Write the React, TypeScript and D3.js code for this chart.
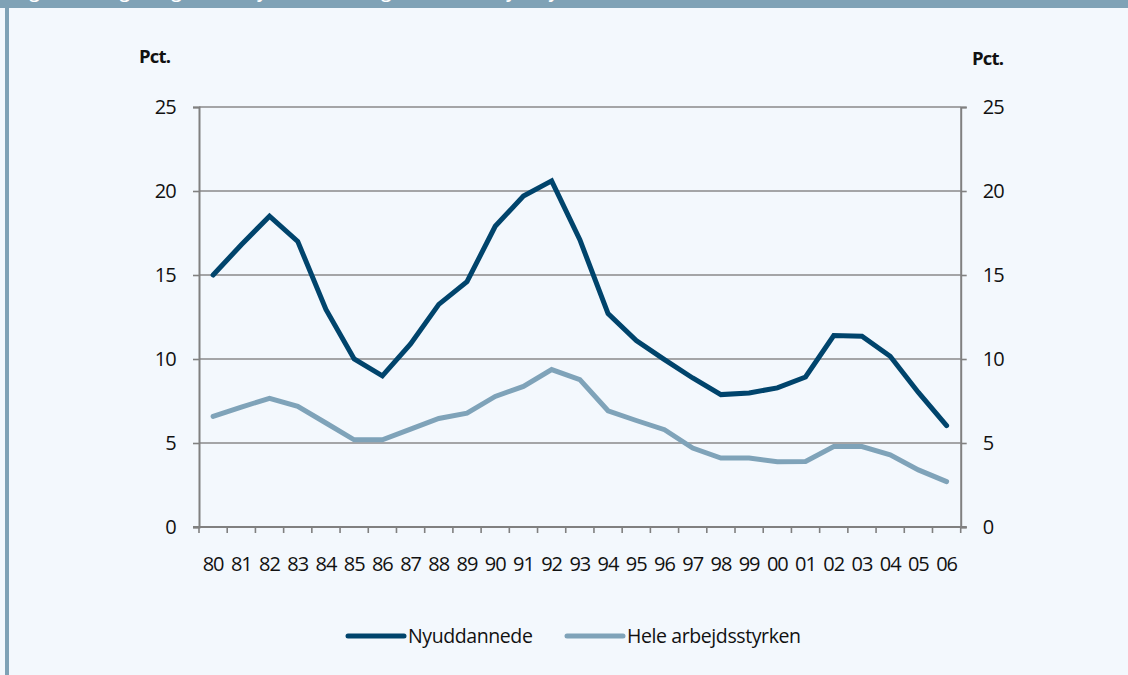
import React, { useEffect, useRef } from 'react';
import * as d3 from 'd3';

// years shown on the x axis
const years = ['80', '81', '82', '83', '84', '85', '86', '87', '88', '89', '90', '91', '92', '93',
  '94', '95', '96', '97', '98', '99', '00', '01', '02', '03', '04', '05', '06'];

// ledighed i pct.
const nyuddannede = [15.0, 16.8, 18.5, 17.0, 12.95, 10.0, 9.0, 10.9, 13.25, 14.6, 17.9, 19.7, 20.6, 17.1,
  12.7, 11.1, 9.96, 8.87, 7.88, 7.98, 8.28, 8.93, 11.4, 11.36, 10.16, 8.01, 6.03];
const heleArbejdsstyrken = [6.58, 7.14, 7.66, 7.18, 6.19, 5.19, 5.19, 5.83, 6.46, 6.78, 7.77, 8.37, 9.37, 8.77,
  6.92, 6.34, 5.79, 4.7, 4.1, 4.1, 3.88, 3.9, 4.79, 4.79, 4.3, 3.4, 2.7];

const yTicks = [0, 5, 10, 15, 20, 25];
const seriesNames = ['Nyuddannede', 'Hele arbejdsstyrken'];
const seriesColors = ['#00446c', '#7fa3b9'];

const title = 'Figur 1. Ledighedsgrad for nyuddannede og for hele arbejdsstyrken, 1980-2006';

export default function App() {
  const ref = useRef<SVGSVGElement>(null);

  useEffect(() => {
    const W = 1128, H = 675;
    const left = 199, right = 960.7, top = 107, bottom = 527;
    const font = "'Open Sans', 'Noto Sans', sans-serif";
    const fs = 20;

    const svg = d3.select(ref.current).attr('width', W).attr('height', H);
    svg.selectAll('*').remove();

    // frame
    svg.append('rect').attr('width', W).attr('height', H).attr('fill', '#f3f8fd');
    svg.append('rect').attr('x', 0).attr('y', 0).attr('width', W).attr('height', 8).attr('fill', '#7fa2b6');
    svg.append('rect').attr('x', 5).attr('y', 0).attr('width', 4).attr('height', H).attr('fill', '#7fa2b6');
    // title sits above the cropped edge, only its descenders show
    svg.append('text')
      .attr('x', 15).attr('y', -2)
      .attr('fill', '#ffffff').attr('font-family', font).attr('font-weight', 600).attr('font-size', 18)
      .text(title);

    const x = d3.scaleBand<string>().domain(years).range([left, right]);
    const y = d3.scaleLinear().domain([0, 25]).range([bottom, top]);
    const cx = (d: string) => (x(d) as number) + x.bandwidth() / 2;

    const g = svg.append('g');

    // gridlines
    g.selectAll('.grid')
      .data(yTicks.filter((t) => t > 0))
      .join('line')
      .attr('class', 'grid')
      .attr('x1', left).attr('x2', right)
      .attr('y1', (d) => y(d)).attr('y2', (d) => y(d))
      .attr('stroke', '#8a8a8a').attr('stroke-width', 1.6);

    // left axis
    g.append('g')
      .attr('transform', `translate(${left},0)`)
      .call(d3.axisLeft(y).tickValues(yTicks).tickSize(6).tickPadding(17))
      .call((a) => a.select('.domain').attr('stroke', '#808080').attr('stroke-width', 2))
      .call((a) => a.selectAll('.tick line').attr('stroke', '#808080').attr('stroke-width', 1.6))
      .call((a) => a.selectAll('text').attr('font-family', font).attr('font-size', fs)
        .attr('letter-spacing', -0.8).attr('fill', '#111'));

    // right axis
    g.append('g')
      .attr('transform', `translate(${right},0)`)
      .call(d3.axisRight(y).tickValues(yTicks).tickSize(6).tickPadding(16))
      .call((a) => a.select('.domain').attr('stroke', '#808080').attr('stroke-width', 2))
      .call((a) => a.selectAll('.tick line').attr('stroke', '#808080').attr('stroke-width', 1.6))
      .call((a) => a.selectAll('text').attr('font-family', font).attr('font-size', fs)
        .attr('letter-spacing', -0.8).attr('fill', '#111'));

    // bottom axis, ticks between years
    g.append('line')
      .attr('x1', left - 6).attr('x2', right + 6)
      .attr('y1', bottom).attr('y2', bottom)
      .attr('stroke', '#808080').attr('stroke-width', 2);
    g.selectAll('.xtick')
      .data(years.concat(['end']))
      .join('line')
      .attr('class', 'xtick')
      .attr('x1', (d, i) => left + i * x.step()).attr('x2', (d, i) => left + i * x.step())
      .attr('y1', bottom).attr('y2', bottom + 6)
      .attr('stroke', '#808080').attr('stroke-width', 1.6);
    g.selectAll('.xlabel')
      .data(years)
      .join('text')
      .attr('class', 'xlabel')
      .attr('x', (d) => cx(d)).attr('y', 571)
      .attr('text-anchor', 'middle')
      .attr('font-family', font).attr('font-size', fs).attr('letter-spacing', -1).attr('fill', '#111')
      .text((d) => d);

    // Pct. labels
    svg.append('text').attr('x', 139).attr('y', 63)
      .attr('font-family', font).attr('font-weight', 700).attr('font-size', 18.5).attr('letter-spacing', -0.8)
      .attr('fill', '#111').text('Pct.');
    svg.append('text').attr('x', 972).attr('y', 65)
      .attr('font-family', font).attr('font-weight', 700).attr('font-size', 18.5).attr('letter-spacing', -0.8)
      .attr('fill', '#111').text('Pct.');

    // lines
    const line = d3.line<number>()
      .x((d, i) => cx(years[i]))
      .y((d) => y(d));

    [nyuddannede, heleArbejdsstyrken].forEach((s, k) => {
      g.append('path')
        .datum(s)
        .attr('d', line)
        .attr('fill', 'none')
        .attr('stroke', seriesColors[k])
        .attr('stroke-width', 5)
        .attr('stroke-linejoin', 'miter')
        .attr('stroke-linecap', 'round');
    });

    // legend
    const legendX = [348, 567];
    seriesNames.forEach((name, k) => {
      const lg = svg.append('g').attr('transform', `translate(${legendX[k]},636)`);
      lg.append('line').attr('x1', 0).attr('x2', 56).attr('y1', 0).attr('y2', 0)
        .attr('stroke', seriesColors[k]).attr('stroke-width', 5).attr('stroke-linecap', 'round');
      lg.append('text').attr('x', 60).attr('y', 7)
        .attr('font-family', font).attr('font-size', 19.5).attr('letter-spacing', -0.4)
        .attr('fill', '#111').text(name);
    });
  }, []);

  return (
    <div style={{ position: 'absolute', left: 0, top: 0 }}>
      <svg ref={ref}></svg>
    </div>
  );
}
